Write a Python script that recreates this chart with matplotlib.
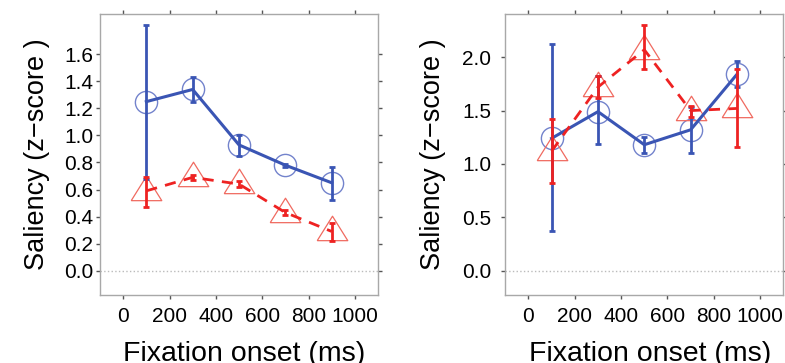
import numpy as np
import matplotlib
matplotlib.use("Agg")
import matplotlib.pyplot as plt

plt.rcParams['font.family'] = ['Liberation Sans', 'DejaVu Sans']

# fixation onset bins (ms)
onset = [100, 300, 500, 700, 900]

# left panel
blue_mean_l = [1.25, 1.34, 0.93, 0.78, 0.65]
blue_lo_l = [0.68, 1.25, 0.85, 0.77, 0.52]
blue_hi_l = [1.82, 1.43, 1.00, 0.79, 0.77]
red_mean_l = [0.59, 0.69, 0.64, 0.43, 0.29]
red_lo_l = [0.47, 0.67, 0.62, 0.41, 0.22]
red_hi_l = [0.69, 0.71, 0.66, 0.45, 0.35]

# right panel
blue_mean_r = [1.24, 1.49, 1.18, 1.32, 1.84]
blue_lo_r = [0.37, 1.19, 1.10, 1.10, 1.72]
blue_hi_r = [2.12, 1.82, 1.25, 1.53, 1.96]
red_mean_r = [1.12, 1.72, 2.07, 1.50, 1.52]
red_lo_r = [0.82, 1.62, 1.89, 1.44, 1.16]
red_hi_r = [1.42, 1.82, 2.30, 1.54, 1.89]

BLUE = '#3a55b4'
BLUE_LIGHT = '#7383cc'
RED = '#ee2222'
RED_LIGHT = '#f06a60'

tri = [(-1, -0.6), (1, -0.6), (0, 1.0), (-1, -0.6)]


def panel(ax, bm, blo, bhi, rm, rlo, rhi, ylim, yticks, tickpad, ylab_x):
    ax.axhline(0, color='#bbbbbb', lw=1, ls=':', zorder=0)
    bm, blo, bhi = map(np.asarray, (bm, blo, bhi))
    rm, rlo, rhi = map(np.asarray, (rm, rlo, rhi))

    ax.errorbar(onset, bm, yerr=[bm - blo, bhi - bm], color=BLUE, lw=2.2,
                elinewidth=2, capsize=2, capthick=2, zorder=3)
    ax.plot(onset, bm, ls='none', marker='o', ms=16, mfc='none',
            mec=BLUE_LIGHT, mew=1, zorder=2)

    ax.errorbar(onset, rm, yerr=[rm - rlo, rhi - rm], color=RED, lw=2,
                ls=(0, (4, 3)), elinewidth=2, capsize=2, capthick=2, zorder=4)
    ax.plot(onset, rm, ls='none', marker=tri, ms=22, mfc='none',
            mec=RED_LIGHT, mew=0.9, zorder=2)

    ax.set_xlim(-100, 1100)
    ax.set_ylim(*ylim)
    ax.set_xticks([0, 200, 400, 600, 800, 1000])
    ax.set_yticks(yticks)
    ax.tick_params(direction='out', length=3, width=1, color='#555555',
                   labelsize=15, top=True, right=True,
                   labeltop=False, labelright=False)
    ax.tick_params(axis='y', pad=tickpad)
    ax.tick_params(axis='x', pad=5.5)
    for s in ax.spines.values():
        s.set_color('#a8a8a8')
        s.set_linewidth(1)

    ax.set_ylabel('Saliency (z\u2212score )', fontsize=19.5)
    ax.yaxis.set_label_coords(ylab_x, 0.5)
    ax.set_xlabel('Fixation onset (ms)', fontsize=20.5)
    ax.xaxis.set_label_coords(0.52, -0.165)


fig = plt.figure(figsize=(7.85, 3.63), dpi=100)
ax1 = fig.add_axes([100 / 785, 1 - 295 / 363, 278 / 785, 281 / 363])
ax2 = fig.add_axes([505.3 / 785, 1 - 295 / 363, 278 / 785, 281 / 363])

panel(ax1, blue_mean_l, blue_lo_l, blue_hi_l, red_mean_l, red_lo_l, red_hi_l,
      (-0.18, 1.898), [0.0, 0.2, 0.4, 0.6, 0.8, 1.0, 1.2, 1.4, 1.6], 2, -0.18)
panel(ax2, blue_mean_r, blue_lo_r, blue_hi_r, red_mean_r, red_lo_r, red_hi_r,
      (-0.228, 2.405), [0.0, 0.5, 1.0, 1.5, 2.0], 7, -0.215)

fig.savefig('out.png', dpi=100)
